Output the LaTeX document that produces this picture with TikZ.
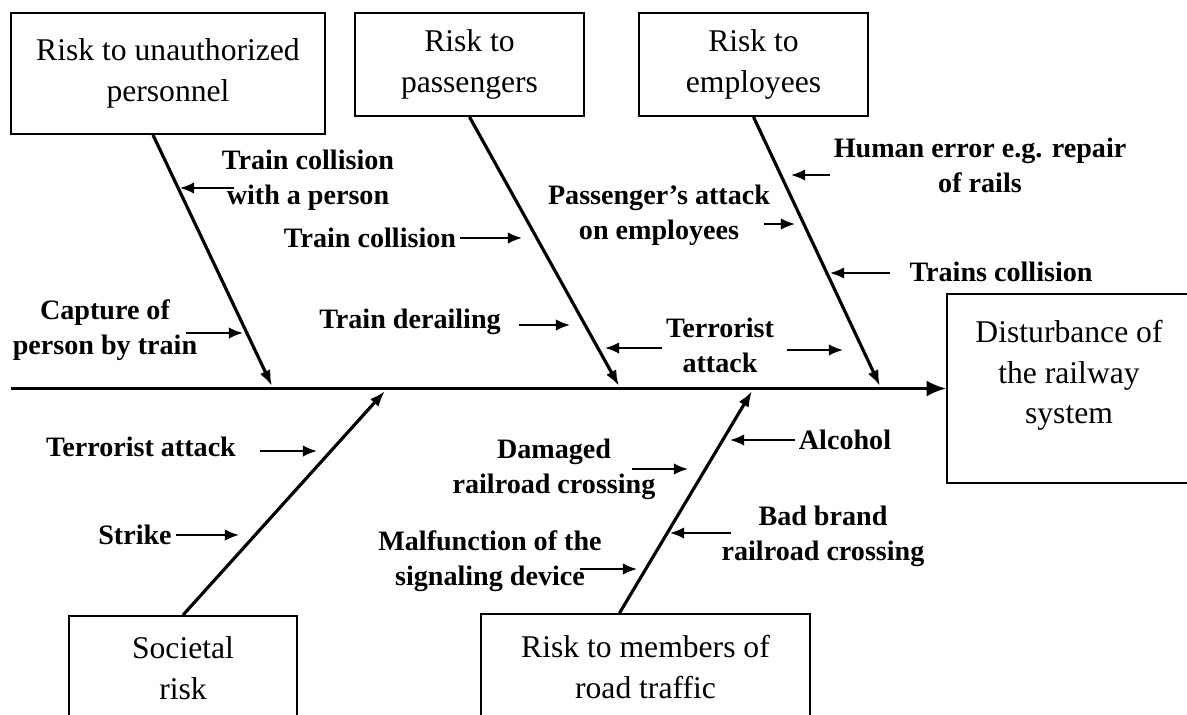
\documentclass[tikz,border=0pt]{standalone}
\usepackage{fontspec}
\setmainfont{Liberation Serif}
\usetikzlibrary{arrows.meta,calc}
\tikzset{
  riskbox/.style={draw,line width=1.1pt,align=center,inner sep=0pt,font=\fontsize{18}{23}\selectfont},
  cause/.style={align=center,inner sep=2pt,font=\fontsize{16}{20}\bfseries\selectfont},
  spine/.style={-{Latex[length=11pt,width=9pt]},line width=1.5pt},
  bone/.style={-{Latex[length=9pt,width=6.5pt]},line width=1.8pt},
  flow/.style={-{Latex[length=8pt,width=6.5pt]},line width=1.2pt}
}

\begin{document}
\begin{tikzpicture}[x=0.02cm,y=-0.02cm]
  \useasboundingbox (0,0) rectangle (1187,714);

  % risk boxes
  \node[riskbox,minimum width=6.28cm,minimum height=2.42cm] (unauth) at (168,73.5) {Risk to unauthorized\\personnel};
  \node[riskbox,minimum width=4.58cm,minimum height=2.06cm] (passeng) at (469.5,64.5) {Risk to\\passengers};
  \node[riskbox,minimum width=4.58cm,minimum height=2.06cm] (employ) at (753.5,64.5) {Risk to\\employees};
  \node[riskbox,minimum width=4.88cm,minimum height=3.78cm] (system) at (1069,388.5) {Disturbance of\\the railway\\system\\[-0.4cm]\strut};
  \node[riskbox,minimum width=4.56cm,minimum height=2.08cm] (societal) at (183,668) {Societal\\risk};
  \node[riskbox,minimum width=6.58cm,minimum height=2.12cm] (road) at (645.5,667) {Risk to members of\\road traffic};

  % spine and bones
  \coordinate (tail) at (11,388.5);
  \draw[spine] (tail) -- (system.west);
  \coordinate (j1) at (272,386);
  \coordinate (j2) at (619,386);
  \coordinate (j3) at (880,386);
  \coordinate (j4) at (385,391);
  \coordinate (j5) at (752,391);
  \draw[bone] ([xshift=-0.3cm]unauth.south) -- (j1);
  \draw[bone] (passeng.south) -- (j2);
  \draw[bone] (employ.south) -- (j3);
  \draw[bone] (societal.north) -- (j4);
  \draw[bone] ([xshift=-0.52cm]road.north) -- (j5);

  % causes above the spine
  \node[cause] (tcperson) at (308,180) {Train collision\\with a person};
  \coordinate (tcpersontip) at (180,188);
  \draw[flow] ($(tcperson.west |- tcpersontip)+(16,0)$) -- (tcpersontip);

  \node[cause] (capture) at (105,330) {Capture of\\person by train};
  \coordinate (capturetip) at (243,333);
  \draw[flow] ($(capture.east |- capturetip)+(-15,0)$) -- (capturetip);

  \node[cause] (tcpass) at (370,238) {Train collision};
  \coordinate (tcpasstip) at (522,238);
  \draw[flow] (tcpass.east |- tcpasstip) -- (tcpasstip);

  \node[cause] (derail) at (410,322) {Train derailing};
  \coordinate (derailtip) at (570,325);
  \draw[flow] ($(derail.east |- derailtip)+(14,0)$) -- (derailtip);

  \node[cause] (pattack) at (659,215) {Passenger's attack\\on employees};
  \coordinate (pattacktip) at (795,224);
  \draw[flow] ($(pattack.east |- pattacktip)+(-10,0)$) -- (pattacktip);

  \node[cause] (human) at (980,165) {Human error e.g. repair\\of rails};
  \coordinate (humantip) at (791,175);
  \draw[flow] (human.west |- humantip) -- (humantip);

  \node[cause] (trains) at (1001,272) {Trains collision};
  \coordinate (trainstip) at (830,273);
  \draw[flow] ($(trains.west |- trainstip)+(-16,0)$) -- (trainstip);

  \node[cause] (terrtop) at (720,345) {Terrorist\\attack};
  \coordinate (terrlefttip) at (605,348);
  \coordinate (terrrighttip) at (843,350);
  \draw[flow] (terrtop.west |- terrlefttip) -- (terrlefttip);
  \draw[flow] ($(terrtop.east |- terrrighttip)+(9,0)$) -- (terrrighttip);

  % causes below the spine
  \node[cause] (terrbot) at (141,447) {Terrorist attack};
  \coordinate (terrbottip) at (317,451);
  \draw[flow] ($(terrbot.east |- terrbottip)+(20,0)$) -- (terrbottip);

  \node[cause] (strike) at (135,535) {Strike};
  \coordinate (striketip) at (239,535);
  \draw[flow] (strike.east |- striketip) -- (striketip);

  \node[cause] (damaged) at (554,469) {Damaged\\railroad crossing};
  \coordinate (damagedtip) at (688,469);
  \draw[flow] ($(damaged.east |- damagedtip)+(-27,0)$) -- (damagedtip);

  \node[cause] (malf) at (490,561) {Malfunction of the\\signaling device};
  \coordinate (malftip) at (637,569);
  \draw[flow] ($(malf.east |- malftip)+(-26,0)$) -- (malftip);

  \node[cause] (alcohol) at (845,440) {Alcohol};
  \coordinate (alcoholtip) at (730,440);
  \draw[flow] (alcohol.west |- alcoholtip) -- (alcoholtip);

  \node[cause] (badbrand) at (823,536) {Bad brand\\railroad crossing};
  \coordinate (badbrandtip) at (670,533);
  \draw[flow] ($(badbrand.west |- badbrandtip)+(13,0)$) -- (badbrandtip);
\end{tikzpicture}
\end{document}
